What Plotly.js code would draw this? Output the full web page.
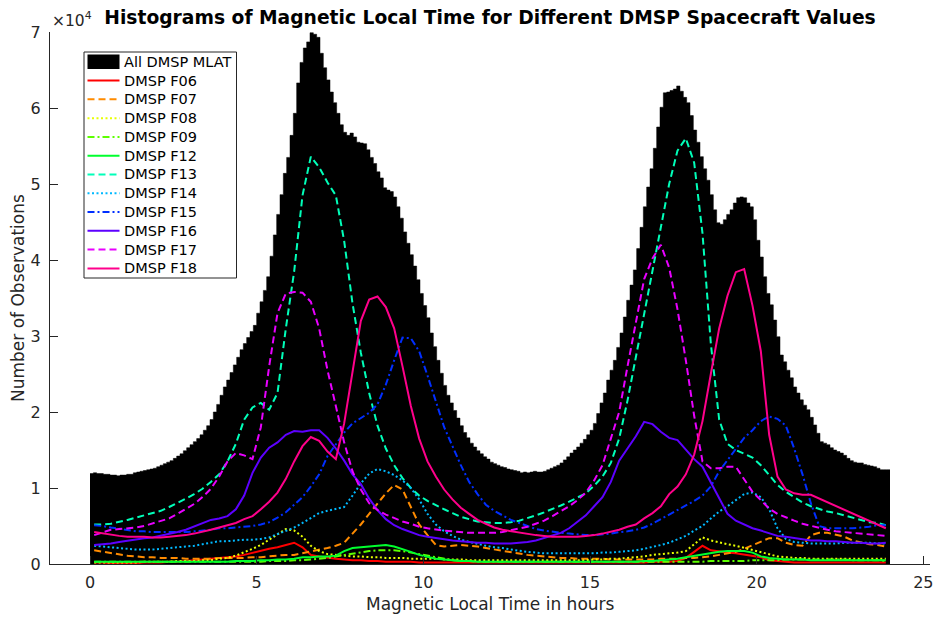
<!DOCTYPE html>
<html>
<head>
<meta charset="utf-8">
<script src="https://cdn.plot.ly/plotly-3.0.1.min.js"></script>
<style>html,body{margin:0;padding:0;background:#fff;}#chart{width:938px;height:617px;}</style>
</head>
<body>
<div id="chart"></div>
<script>
// All DMSP MLAT histogram, counts x 10^4, 0.1-hour bins from 0 to 24 h
const allMlat = [
1.19,1.20,1.19,1.19,1.18,1.18,1.17,1.17,1.16,1.17,
1.17,1.18,1.18,1.20,1.21,1.22,1.23,1.24,1.25,1.26,
1.28,1.30,1.32,1.34,1.36,1.39,1.42,1.45,1.49,1.53,
1.57,1.61,1.65,1.70,1.76,1.82,1.90,2.00,2.10,2.22,
2.33,2.42,2.52,2.62,2.72,2.82,2.90,2.98,3.06,3.14,
3.30,3.45,3.60,3.78,4.05,4.33,4.60,4.86,5.14,5.35,
5.64,5.93,6.33,6.60,6.79,6.87,6.99,6.97,6.93,6.72,
6.53,6.37,6.21,6.07,5.93,5.78,5.68,5.64,5.67,5.62,
5.55,5.54,5.53,5.45,5.35,5.27,5.16,5.08,4.95,4.92,
4.90,4.83,4.70,4.55,4.37,4.22,4.07,3.92,3.74,3.56,
3.40,3.24,3.04,2.86,2.68,2.51,2.35,2.22,2.12,2.02,
1.92,1.82,1.73,1.66,1.59,1.54,1.49,1.45,1.41,1.38,
1.34,1.32,1.30,1.28,1.27,1.25,1.24,1.23,1.22,1.20,
1.21,1.20,1.21,1.22,1.21,1.21,1.22,1.24,1.26,1.28,
1.30,1.33,1.37,1.41,1.46,1.50,1.54,1.59,1.64,1.70,
1.76,1.85,1.98,2.12,2.25,2.42,2.55,2.68,2.85,3.04,
3.25,3.47,3.67,3.87,4.15,4.43,4.70,4.96,5.20,5.47,
5.75,6.01,6.20,6.21,6.23,6.25,6.29,6.22,6.14,6.07,
5.90,5.71,5.55,5.36,5.20,5.05,4.86,4.66,4.49,4.47,
4.53,4.60,4.66,4.75,4.82,4.83,4.82,4.75,4.70,4.53,
4.26,4.04,3.78,3.56,3.41,3.21,2.99,2.75,2.66,2.55,
2.45,2.33,2.25,2.16,2.09,2.03,1.93,1.83,1.72,1.61,
1.59,1.57,1.53,1.50,1.48,1.46,1.43,1.39,1.36,1.34,
1.33,1.33,1.31,1.30,1.29,1.28,1.26,1.24,1.24,1.24];

// Per-spacecraft curves, counts x 10^4, sampled every 0.25 h (0.125 ... 23.875)
const f06 = [
0.02,0.02,0.01,0.01,0.01,0.01,0.02,0.02,
0.02,0.03,0.03,0.04,0.05,0.06,0.07,0.08,
0.09,0.10,0.12,0.15,0.18,0.20,0.22,0.25,
0.28,0.22,0.12,0.10,0.08,0.07,0.06,0.05,
0.05,0.04,0.04,0.03,0.03,0.03,0.03,0.02,
0.02,0.02,0.02,0.02,0.02,0.02,0.02,0.02,
0.02,0.02,0.02,0.02,0.02,0.02,0.02,0.02,
0.02,0.02,0.02,0.02,0.02,0.02,0.02,0.02,
0.02,0.02,0.02,0.03,0.03,0.03,0.04,0.08,
0.16,0.24,0.18,0.16,0.15,0.14,0.12,0.11,
0.09,0.05,0.04,0.03,0.02,0.02,0.02,0.02,
0.02,0.02,0.02,0.02,0.02,0.02,0.02,0.02];
const f07 = [
0.18,0.16,0.14,0.13,0.11,0.10,0.09,0.09,
0.08,0.08,0.08,0.07,0.07,0.07,0.07,0.08,
0.08,0.08,0.08,0.09,0.09,0.10,0.11,0.12,
0.12,0.14,0.16,0.18,0.21,0.24,0.28,0.40,
0.52,0.66,0.80,0.93,1.04,0.98,0.75,0.52,
0.38,0.25,0.23,0.24,0.25,0.24,0.23,0.21,
0.19,0.17,0.15,0.13,0.12,0.11,0.10,0.09,
0.08,0.08,0.07,0.07,0.07,0.07,0.06,0.06,
0.06,0.06,0.06,0.06,0.07,0.07,0.07,0.08,
0.08,0.09,0.10,0.12,0.14,0.16,0.20,0.25,
0.30,0.34,0.34,0.28,0.25,0.24,0.38,0.41,
0.41,0.39,0.36,0.31,0.28,0.26,0.25,0.23];
const f08 = [
0.02,0.02,0.02,0.02,0.02,0.02,0.03,0.03,
0.03,0.03,0.04,0.04,0.04,0.05,0.05,0.07,
0.08,0.11,0.15,0.20,0.25,0.32,0.40,0.46,
0.44,0.36,0.24,0.17,0.13,0.12,0.11,0.10,
0.10,0.09,0.09,0.08,0.08,0.08,0.07,0.07,
0.07,0.07,0.06,0.06,0.06,0.05,0.05,0.05,
0.05,0.05,0.05,0.05,0.05,0.05,0.05,0.05,
0.05,0.05,0.05,0.05,0.06,0.06,0.07,0.07,
0.08,0.09,0.10,0.12,0.13,0.14,0.15,0.17,
0.26,0.35,0.31,0.28,0.26,0.24,0.21,0.18,
0.15,0.12,0.10,0.09,0.08,0.08,0.07,0.07,
0.07,0.07,0.07,0.07,0.07,0.07,0.07,0.07];
const f09 = [
0.03,0.03,0.03,0.03,0.03,0.03,0.03,0.03,
0.03,0.03,0.03,0.03,0.03,0.03,0.03,0.03,
0.03,0.03,0.03,0.03,0.03,0.04,0.04,0.04,
0.05,0.05,0.06,0.07,0.08,0.10,0.12,0.14,
0.16,0.17,0.18,0.18,0.18,0.17,0.15,0.13,
0.10,0.08,0.06,0.05,0.04,0.04,0.03,0.03,
0.03,0.03,0.03,0.03,0.03,0.03,0.03,0.03,
0.03,0.03,0.03,0.03,0.03,0.03,0.03,0.03,
0.03,0.03,0.03,0.03,0.03,0.03,0.03,0.03,
0.03,0.03,0.04,0.04,0.04,0.04,0.04,0.05,
0.05,0.05,0.05,0.06,0.06,0.06,0.06,0.06,
0.06,0.06,0.06,0.05,0.05,0.05,0.05,0.04];
const f12 = [
0.03,0.03,0.03,0.03,0.03,0.03,0.03,0.03,
0.03,0.03,0.03,0.03,0.03,0.03,0.03,0.03,
0.03,0.04,0.04,0.04,0.05,0.05,0.06,0.06,
0.07,0.09,0.09,0.10,0.10,0.11,0.17,0.21,
0.22,0.23,0.24,0.25,0.23,0.20,0.16,0.12,
0.09,0.07,0.06,0.05,0.04,0.04,0.03,0.03,
0.03,0.03,0.03,0.03,0.03,0.03,0.03,0.03,
0.03,0.03,0.03,0.03,0.03,0.03,0.03,0.03,
0.03,0.03,0.04,0.04,0.05,0.06,0.07,0.09,
0.11,0.13,0.15,0.16,0.17,0.17,0.17,0.15,
0.10,0.08,0.07,0.06,0.06,0.06,0.05,0.05,
0.05,0.05,0.05,0.05,0.05,0.05,0.05,0.05];
const f13 = [
0.52,0.52,0.53,0.55,0.58,0.61,0.64,0.67,
0.70,0.75,0.80,0.86,0.92,0.99,1.08,1.18,
1.35,1.58,1.90,2.06,2.12,2.03,2.25,3.10,
3.85,4.85,5.36,5.22,5.02,4.85,4.25,3.43,
2.78,2.25,1.82,1.52,1.30,1.13,1.00,0.90,
0.83,0.77,0.72,0.67,0.62,0.59,0.56,0.55,
0.54,0.54,0.55,0.57,0.60,0.64,0.68,0.72,
0.77,0.82,0.87,0.93,1.03,1.15,1.33,1.65,
2.15,2.72,3.30,3.88,4.47,5.00,5.44,5.60,
5.28,4.35,2.90,1.90,1.58,1.50,1.45,1.40,
1.30,1.17,1.04,0.95,0.88,0.81,0.76,0.72,
0.69,0.67,0.64,0.61,0.58,0.55,0.54,0.51];
const f14 = [
0.24,0.23,0.22,0.21,0.20,0.19,0.19,0.19,
0.20,0.21,0.22,0.23,0.24,0.26,0.28,0.30,
0.30,0.31,0.32,0.32,0.33,0.35,0.39,0.43,
0.48,0.54,0.60,0.67,0.70,0.72,0.75,0.90,
1.06,1.19,1.25,1.22,1.17,1.10,1.00,0.85,
0.66,0.52,0.43,0.37,0.32,0.29,0.26,0.24,
0.22,0.21,0.19,0.17,0.16,0.15,0.14,0.14,
0.14,0.14,0.14,0.14,0.14,0.15,0.15,0.16,
0.17,0.18,0.20,0.22,0.25,0.28,0.32,0.37,
0.44,0.50,0.60,0.69,0.76,0.84,0.92,0.94,
0.88,0.72,0.47,0.33,0.29,0.28,0.27,0.27,
0.27,0.27,0.28,0.28,0.28,0.28,0.27,0.27];
const f15 = [
0.51,0.50,0.48,0.46,0.44,0.43,0.43,0.42,
0.42,0.42,0.42,0.42,0.43,0.44,0.45,0.47,
0.47,0.48,0.49,0.50,0.52,0.55,0.61,0.68,
0.78,0.88,1.02,1.18,1.42,1.58,1.73,1.85,
1.92,1.99,2.10,2.36,2.68,2.98,2.97,2.80,
2.48,2.15,1.80,1.55,1.30,1.08,0.92,0.78,
0.70,0.64,0.58,0.54,0.50,0.46,0.44,0.42,
0.41,0.40,0.39,0.38,0.38,0.39,0.40,0.42,
0.43,0.45,0.48,0.53,0.59,0.64,0.70,0.76,
0.83,0.90,1.02,1.22,1.37,1.52,1.66,1.76,
1.88,1.94,1.91,1.82,1.52,1.18,0.80,0.50,
0.47,0.47,0.47,0.47,0.48,0.49,0.51,0.51];
const f16 = [
0.25,0.26,0.27,0.29,0.31,0.32,0.34,0.35,
0.37,0.39,0.42,0.45,0.49,0.53,0.58,0.60,
0.63,0.72,0.90,1.20,1.40,1.53,1.60,1.70,
1.75,1.74,1.76,1.76,1.66,1.52,1.36,1.18,
1.05,0.86,0.71,0.59,0.51,0.46,0.42,0.38,
0.36,0.34,0.33,0.31,0.30,0.29,0.28,0.28,
0.27,0.27,0.27,0.28,0.29,0.31,0.34,0.37,
0.41,0.47,0.55,0.64,0.76,0.88,1.08,1.36,
1.52,1.68,1.87,1.84,1.74,1.66,1.63,1.50,
1.38,1.28,1.08,0.86,0.66,0.57,0.52,0.47,
0.44,0.40,0.37,0.36,0.34,0.32,0.31,0.31,
0.30,0.30,0.29,0.28,0.28,0.27,0.27,0.28];
const f17 = [
0.38,0.42,0.45,0.46,0.47,0.48,0.50,0.53,
0.56,0.60,0.66,0.72,0.79,0.88,0.99,1.15,
1.35,1.46,1.43,1.38,1.80,2.60,3.30,3.56,
3.58,3.57,3.45,3.10,2.55,2.08,1.60,1.22,
0.98,0.80,0.71,0.65,0.60,0.56,0.53,0.49,
0.47,0.45,0.44,0.43,0.42,0.41,0.41,0.41,
0.41,0.42,0.44,0.46,0.49,0.53,0.57,0.63,
0.69,0.76,0.84,0.94,1.10,1.30,1.65,2.00,
2.60,3.20,3.75,4.02,4.20,3.90,3.35,2.68,
1.95,1.35,1.26,1.26,1.28,1.28,1.12,0.95,
0.84,0.73,0.66,0.61,0.57,0.53,0.50,0.47,
0.45,0.43,0.42,0.41,0.40,0.39,0.38,0.37];
const f18 = [
0.42,0.40,0.38,0.37,0.36,0.36,0.36,0.35,
0.35,0.36,0.37,0.38,0.40,0.42,0.45,0.48,
0.51,0.54,0.59,0.63,0.72,0.82,0.94,1.12,
1.35,1.55,1.67,1.62,1.48,1.38,1.85,2.55,
3.20,3.48,3.52,3.38,3.10,2.60,2.08,1.65,
1.35,1.15,0.98,0.85,0.74,0.66,0.58,0.53,
0.48,0.45,0.43,0.41,0.39,0.38,0.37,0.36,
0.36,0.36,0.36,0.37,0.38,0.40,0.42,0.45,
0.49,0.52,0.60,0.67,0.76,0.92,1.02,1.18,
1.44,1.88,2.50,3.10,3.53,3.84,3.88,3.40,
2.80,1.70,1.15,0.98,0.93,0.91,0.91,0.86,
0.82,0.77,0.72,0.67,0.62,0.56,0.51,0.47];

const histName = 'All DMSP MLAT';
const seriesNames = ['DMSP F06','DMSP F07','DMSP F08','DMSP F09','DMSP F12','DMSP F13',
                     'DMSP F14','DMSP F15','DMSP F16','DMSP F17','DMSP F18'];
const seriesData = [f06,f07,f08,f09,f12,f13,f14,f15,f16,f17,f18];
const xTicks = [0,5,10,15,20,25];
const yTicks = [0,1,2,3,4,5,6,7];

// ---------- styles ----------
const colors = ['#ff0000','#ff8b00','#e8ff00','#5dff00','#00ff2e','#00ffb9',
                '#00b9ff','#002eff','#5d00ff','#e800ff','#ff008b'];
const DASH = '7px,4px', DOT = '2px,2.5px', DASHDOT = '7px,3px,2px,3px';
const dashes = ['solid',DASH,DOT,DASHDOT,'solid',DASH,DOT,DASHDOT,'solid',DASH,'solid'];
const FONT = 'DejaVu Sans';
const AX = '#262626';

// plot area in pixels (for the hand-built MATLAB-style legend)
const PL = 50, PR = 930, PT = 32, PB = 564;
const xp = px => (px - PL) / (PR - PL);
const yp = py => (PB - py) / (PB - PT);

const binW = 0.1;
const edges = allMlat.map((v,i)=>i*binW).concat([allMlat.length*binW]);
const stairY = allMlat.concat([allMlat[allMlat.length-1]]);
const lineX = f06.map((v,i)=>0.125+0.25*i);

const traces = [{
  type:'scatter', mode:'lines', name:histName, showlegend:false,
  x: edges, y: stairY, line:{shape:'hv', color:'#000', width:0.5},
  fill:'tozeroy', fillcolor:'#000'
}];
seriesData.forEach((d,i)=>{
  traces.push({type:'scatter', mode:'lines', name:seriesNames[i], x:lineX, y:d, showlegend:false,
    line:{color:colors[i], width:2, dash:dashes[i]}});
});

// legend (MATLAB look): box, swatches, labels
const lgL = 84, lgR = 236.5, lgT = 52, lgB = 278;
const rowY0 = 61.8, rowH = 18.78, swL = 87.5, swR = 119.5, txtL = 122;
const shapes = [
  {type:'rect', xref:'paper', yref:'paper', x0:xp(lgL), x1:xp(lgR), y0:yp(lgB), y1:yp(lgT),
   fillcolor:'#fff', line:{color:AX, width:1}, layer:'above'},
  {type:'rect', xref:'paper', yref:'paper', x0:xp(swL), x1:xp(swR), y0:yp(rowY0+7.3), y1:yp(rowY0-7.3),
   fillcolor:'#000', line:{width:0}, layer:'above'}
];
const annotations = [
  {text:histName, xref:'paper', yref:'paper', x:xp(txtL), y:yp(rowY0), xanchor:'left', yanchor:'middle',
   showarrow:false, font:{family:FONT, size:14.5, color:'#000'}}
];
seriesNames.forEach((n,i)=>{
  const cy = rowY0 + rowH*(i+1);
  shapes.push({type:'line', xref:'paper', yref:'paper', x0:xp(swL), x1:xp(swR), y0:yp(cy), y1:yp(cy),
    line:{color:colors[i], width:2, dash:dashes[i]}, layer:'above'});
  annotations.push({text:n, xref:'paper', yref:'paper', x:xp(txtL), y:yp(cy), xanchor:'left', yanchor:'middle',
    showarrow:false, font:{family:FONT, size:14.5, color:'#000'}});
});

annotations.push(
  {text:'Magnetic Local Time in hours', xref:'paper', yref:'paper', x:0.5, y:yp(604),
   xanchor:'center', yanchor:'middle', showarrow:false, font:{family:FONT, size:17, color:AX}},
  {text:'Number of Observations', xref:'paper', yref:'paper', x:xp(18), y:0.5, textangle:-90,
   xanchor:'center', yanchor:'middle', showarrow:false, font:{family:FONT, size:17, color:AX}},
  {text:'×10<sup>4</sup>', xref:'paper', yref:'paper', x:xp(50), y:yp(19),
   xanchor:'left', yanchor:'middle', showarrow:false, font:{family:FONT, size:15.5, color:AX}}
);

const axisBase = {ticks:'inside', ticklen:8, tickcolor:AX, showline:true, linecolor:AX, linewidth:1,
  showgrid:false, zeroline:false, tickfont:{family:FONT, size:16, color:AX}};

const layout = {
  width:938, height:617,
  margin:{l:PL, r:938-PR, t:PT, b:617-PB},
  paper_bgcolor:'#fff', plot_bgcolor:'#fff',
  font:{family:FONT, color:AX},
  title:{text:'<b>Histograms of Magnetic Local Time for Different DMSP Spacecraft Values</b>',
    font:{family:FONT, size:18.7, color:'#000'}, x:490/938, xanchor:'center', y:1-17/617, yanchor:'middle'},
  showlegend:false,
  xaxis:Object.assign({range:[-1.2,25.2], tickvals:xTicks, ticktext:xTicks.map(String), ticklabelstandoff:4}, axisBase),
  yaxis:Object.assign({range:[0,7], tickvals:yTicks, ticktext:yTicks.map(String), ticklabelstandoff:5}, axisBase),
  shapes:shapes,
  annotations:annotations
};

Plotly.newPlot('chart', traces, layout, {displayModeBar:false, staticPlot:true});
</script>
</body>
</html>
